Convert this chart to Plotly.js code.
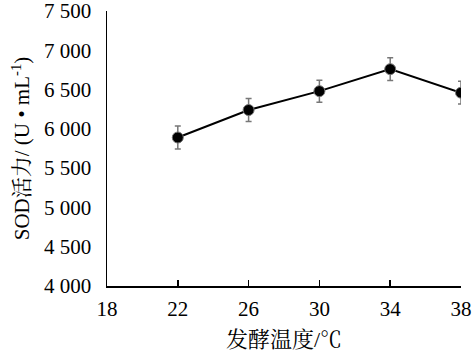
<!DOCTYPE html>
<html>
<head>
<meta charset="utf-8">
<script src="https://cdn.plot.ly/plotly-3.0.1.min.js"></script>
<style>html,body{margin:0;padding:0;background:#fff;}#chart{width:472px;height:354px;}</style>
</head>
<body>
<div id="chart"></div>
<script>
const temperatures = [22, 26, 30, 34, 38];
const sodActivity = [5890, 6240, 6480, 6760, 6460];
const sodError = [145, 145, 140, 145, 145];
const yTickVals = [4000, 4500, 5000, 5500, 6000, 6500, 7000, 7500];
const yTickText = ["4 000", "4 500", "5 000", "5 500", "6 000", "6 500", "7 000", "7 500"];
const xTickVals = [18, 22, 26, 30, 34, 38];

const font = "'Liberation Serif', 'Noto Serif CJK SC', 'Noto Sans CJK SC', serif";

Plotly.newPlot('chart', [{
  x: temperatures,
  y: sodActivity,
  type: 'scatter',
  mode: 'lines+markers',
  line: {color: '#000', width: 2},
  marker: {color: '#000', size: 11, line: {color: '#777', width: 1}},
  error_y: {type: 'data', array: sodError, visible: true, color: '#777', thickness: 1.5, width: 3}
}], {
  width: 472, height: 354,
  margin: {l: 107, r: 11, t: 11, b: 68},
  paper_bgcolor: '#fff', plot_bgcolor: '#fff',
  showlegend: false,
  font: {family: font, color: '#000', size: 20},
  xaxis: {
    range: [18, 38], tickvals: xTickVals, ticks: 'inside', ticklen: 6, tickcolor: '#000', tickwidth: 1.5,
    showline: true, linecolor: '#000', linewidth: 1.5, showgrid: false, zeroline: false,
    ticklabelstandoff: 3, ticklabeloverflow: 'allow',
    tickfont: {family: font, size: 21, color: '#000'},
    title: {text: '发酵温度/℃', font: {family: font, size: 22, color: '#000'}, standoff: 12}
  },
  yaxis: {
    range: [4000, 7500], tickvals: yTickVals, ticktext: yTickText, ticks: '',
    showline: true, linecolor: '#000', linewidth: 1.5, showgrid: false, zeroline: false,
    ticklabelstandoff: 10, ticklabeloverflow: 'allow',
    tickfont: {family: font, size: 21, color: '#000'},
    title: {text: 'SOD活力/ (U • mL<sup>-1</sup>)', font: {family: font, size: 21, color: '#000'}, standoff: 8}
  }
}, {displayModeBar: false, staticPlot: true});
</script>
</body>
</html>
